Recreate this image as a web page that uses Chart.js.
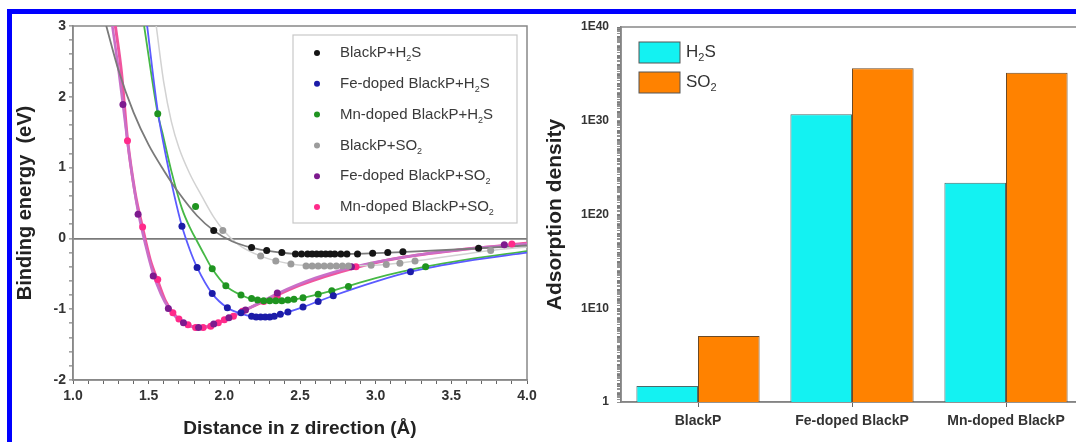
<!DOCTYPE html>
<html>
<head>
<meta charset="utf-8">
<script src="https://cdn.jsdelivr.net/npm/chart.js@4.4.1/dist/chart.umd.min.js"></script>
<style>
  html, body { margin: 0; padding: 0; background: #fff; width: 1076px; height: 442px; overflow: hidden; }
  #left  { position: absolute; left: 0; top: 0; }
  #right { position: absolute; left: 540px; top: 0; }
  .frame { position: absolute; left: 7px; top: 9px; width: 1100px; height: 460px;
           border-top: 5px solid #0000ff; border-left: 5px solid #0000ff; pointer-events: none; }
</style>
</head>
<body>
<canvas id="left" width="545" height="442"></canvas>
<canvas id="right" width="560" height="442"></canvas>
<div class="frame"></div>

<script>
/* ---------- binding energy vs distance (left panel) ---------- */
// measured points [distance Å, energy eV]
const bpH2sPts = [[1.93,0.11],[2.18,-0.13],[2.28,-0.17],[2.38,-0.20],[2.47,-0.22],[2.51,-0.22],[2.55,-0.22],
  [2.58,-0.22],[2.61,-0.22],[2.64,-0.22],[2.67,-0.22],[2.70,-0.22],[2.73,-0.22],[2.77,-0.22],[2.81,-0.22],
  [2.88,-0.22],[2.98,-0.21],[3.08,-0.20],[3.18,-0.19],[3.68,-0.14]];
const feH2sPts = [[1.72,0.17],[1.82,-0.41],[1.92,-0.78],[2.02,-0.98],[2.11,-1.05],[2.18,-1.10],[2.21,-1.11],
  [2.24,-1.11],[2.27,-1.11],[2.30,-1.11],[2.33,-1.10],[2.37,-1.07],[2.42,-1.04],[2.52,-0.97],[2.62,-0.89],
  [2.72,-0.81],[3.23,-0.47]];
const mnH2sPts = [[1.56,1.76],[1.81,0.45],[1.92,-0.43],[2.01,-0.67],[2.11,-0.80],[2.18,-0.85],[2.22,-0.87],
  [2.26,-0.88],[2.30,-0.88],[2.34,-0.88],[2.38,-0.88],[2.42,-0.87],[2.46,-0.86],[2.52,-0.84],[2.62,-0.79],
  [2.71,-0.74],[2.82,-0.68],[3.33,-0.40]];
const bpSo2Pts = [[1.99,0.11],[2.24,-0.25],[2.34,-0.32],[2.44,-0.36],[2.54,-0.39],[2.58,-0.39],[2.62,-0.39],
  [2.66,-0.39],[2.70,-0.39],[2.74,-0.39],[2.78,-0.39],[2.82,-0.39],[2.97,-0.38],[3.07,-0.37],[3.16,-0.35],
  [3.26,-0.32],[3.76,-0.17]];
const feSo2Pts = [[1.33,1.89],[1.43,0.34],[1.53,-0.53],[1.63,-0.99],[1.73,-1.19],[1.83,-1.26],[1.93,-1.21],
  [2.03,-1.12],[2.14,-1.01],[2.35,-0.77],[2.84,-0.40],[3.85,-0.09]];
const mnSo2Pts = [[1.36,1.38],[1.46,0.16],[1.56,-0.58],[1.66,-1.05],[1.70,-1.14],[1.76,-1.22],[1.81,-1.26],
  [1.86,-1.26],[1.91,-1.24],[1.96,-1.19],[2.00,-1.15],[2.06,-1.10],[2.12,-1.03],[2.26,-0.89],[2.35,-0.81],
  [2.87,-0.40],[3.90,-0.08]];

// fitted curves
const bpH2sFit = [[1.22,3.0],[1.30,2.38],[1.40,1.78],[1.50,1.32],[1.60,0.96],[1.70,0.64],[1.82,0.32],[1.93,0.11],
  [2.05,-0.04],[2.18,-0.13],[2.30,-0.18],[2.50,-0.22],[2.80,-0.22],[3.20,-0.19],[3.60,-0.15],[4.00,-0.10]];
const feH2sFit = [[1.49,3.0],[1.56,1.80],[1.62,1.10],[1.67,0.60],[1.72,0.17],[1.77,-0.15],[1.82,-0.41],
  [1.92,-0.78],[2.02,-0.98],[2.12,-1.07],[2.22,-1.11],[2.32,-1.10],[2.42,-1.04],[2.52,-0.97],[2.72,-0.81],
  [3.00,-0.61],[3.23,-0.47],[3.60,-0.32],[4.00,-0.20]];
const mnH2sFit = [[1.47,3.0],[1.56,1.76],[1.59,1.50],[1.65,0.95],[1.72,0.42],[1.78,0.12],[1.82,-0.04],
  [1.87,-0.24],[1.92,-0.43],[2.01,-0.67],[2.11,-0.80],[2.20,-0.87],[2.30,-0.89],[2.40,-0.88],[2.52,-0.84],
  [2.71,-0.74],[3.00,-0.56],[3.33,-0.40],[3.60,-0.30],[4.00,-0.18]];
const bpSo2Fit = [[1.55,3.0],[1.60,2.20],[1.65,1.65],[1.70,1.28],[1.77,0.92],[1.85,0.60],[1.93,0.30],
  [2.00,0.10],[2.10,-0.10],[2.24,-0.25],[2.44,-0.36],[2.70,-0.39],[3.00,-0.38],[3.30,-0.31],[3.76,-0.17],[4.00,-0.12]];
const feSo2Fit = [[1.26,3.0],[1.30,2.40],[1.33,1.89],[1.38,1.05],[1.43,0.38],[1.48,-0.10],[1.53,-0.50],
  [1.58,-0.78],[1.63,-0.98],[1.68,-1.11],[1.73,-1.19],[1.80,-1.25],[1.87,-1.25],[1.93,-1.21],[2.03,-1.12],
  [2.14,-1.01],[2.35,-0.78],[2.60,-0.56],[2.84,-0.41],[3.20,-0.26],[3.60,-0.15],[4.00,-0.08]];
const mnSo2Fit = [[1.28,3.0],[1.32,2.35],[1.36,1.40],[1.41,0.65],[1.46,0.15],[1.51,-0.30],[1.56,-0.60],
  [1.61,-0.88],[1.66,-1.05],[1.71,-1.16],[1.78,-1.24],[1.84,-1.26],[1.91,-1.24],[2.00,-1.15],[2.12,-1.03],
  [2.26,-0.89],[2.50,-0.66],[2.87,-0.41],[3.20,-0.26],[3.60,-0.15],[4.00,-0.07]];

/* ---------- adsorption density (right panel) ---------- */
const substrates  = ['BlackP', 'Fe-doped BlackP', 'Mn-doped BlackP'];
const h2sDensity  = [50, 5e30, 2.5e23];
const so2Density  = [1.1e7, 4e35, 1.3e35];

const FONT = "'Liberation Sans', Arial, Helvetica, sans-serif";
const TEXT = '#333';

const near = (v, step) => Math.abs(v / step - Math.round(v / step)) < 1e-6;
const xy = pts => pts.map(p => ({ x: p[0], y: p[1] }));

// '_' marks the next character as subscript
function drawRich(ctx, text, x, y, size) {
  let cx = x;
  for (let i = 0; i < text.length; i++) {
    let ch = text[i], sub = false;
    if (ch === '_' && i + 1 < text.length) { ch = text[++i]; sub = true; }
    ctx.font = (sub ? Math.round(size * 0.62) : size) + 'px ' + FONT;
    ctx.fillText(ch, cx, sub ? y + size * 0.38 : y);
    cx += ctx.measureText(ch).width;
  }
}

// box around the plot area
const frame = {
  id: 'frame',
  beforeDatasetsDraw(chart) {
    const { ctx, chartArea: a } = chart;
    ctx.save();
    ctx.strokeStyle = '#888';
    ctx.lineWidth = 1.5;
    ctx.strokeRect(a.left, a.top, a.right - a.left, a.bottom - a.top);
    ctx.restore();
  }
};

function pointSet(label, pts, color) {
  return { label, data: xy(pts), backgroundColor: color, borderColor: color,
           pointRadius: 3.5, borderWidth: 0, showLine: false, order: 1 };
}
function fitSet(pts, color, width) {
  return { fit: true, data: xy(pts), borderColor: color, borderWidth: width, pointRadius: 0,
           showLine: true, cubicInterpolationMode: 'monotone', order: 2 };
}

const energyLegend = {
  id: 'energyLegend',
  afterDraw(chart) {
    const { ctx, chartArea: a } = chart;
    const items = chart.data.datasets.filter(d => !d.fit);
    const bx = a.right - 234, by = a.top + 9, bw = 224, bh = 188;
    ctx.save();
    ctx.fillStyle = '#fff';
    ctx.fillRect(bx, by, bw, bh);
    ctx.strokeStyle = '#c8c8c8';
    ctx.lineWidth = 1.2;
    ctx.strokeRect(bx, by, bw, bh);
    ctx.textBaseline = 'middle';
    items.forEach((d, i) => {
      const y = by + 18 + i * 30.8;
      ctx.beginPath();
      ctx.arc(bx + 24, y, 3, 0, Math.PI * 2);
      ctx.fillStyle = d.backgroundColor;
      ctx.fill();
      ctx.fillStyle = '#3a3a3a';
      drawRich(ctx, d.label, bx + 47, y, 15);
    });
    ctx.restore();
  }
};

new Chart(document.getElementById('left'), {
  type: 'scatter',
  data: {
    datasets: [
      pointSet('BlackP+H_2S', bpH2sPts, '#151515'),
      pointSet('Fe-doped BlackP+H_2S', feH2sPts, '#1c1ca8'),
      pointSet('Mn-doped BlackP+H_2S', mnH2sPts, '#1f9420'),
      pointSet('BlackP+SO_2', bpSo2Pts, '#9c9c9c'),
      pointSet('Fe-doped BlackP+SO_2', feSo2Pts, '#7d1a8e'),
      pointSet('Mn-doped BlackP+SO_2', mnSo2Pts, '#ff2a8a'),
      fitSet(bpH2sFit, '#7a7a7a', 1.8),
      fitSet(feH2sFit, '#5b5bff', 1.8),
      fitSet(mnH2sFit, '#46b846', 1.8),
      fitSet(bpSo2Fit, '#d2d2d2', 1.5),
      fitSet(feSo2Fit, '#c870c8', 2.6),
      fitSet(mnSo2Fit, '#f0559e', 3),
    ]
  },
  options: {
    responsive: false,
    animation: false,
    layout: { padding: { left: 0, right: 18, top: 26, bottom: 0 } },
    plugins: { legend: { display: false }, tooltip: { enabled: false } },
    scales: {
      x: {
        type: 'linear', min: 1, max: 4,
        ticks: {
          stepSize: 0.1, autoSkip: false, maxRotation: 0, padding: 4,
          color: TEXT, font: { family: FONT, size: 14, weight: 'bold' },
          callback: v => near(v, 0.5) ? v.toFixed(1) : ''
        },
        grid: { drawOnChartArea: false, tickLength: 4, tickColor: '#666' },
        border: { color: '#888', width: 1.5 },
        title: { display: true, text: 'Distance in z direction (Å)', color: '#222',
                 font: { family: FONT, size: 19, weight: 'bold' }, padding: { top: 0, bottom: 2 } },
        afterFit: s => { s.height = 62; }
      },
      y: {
        min: -2, max: 3,
        ticks: {
          stepSize: 0.2, autoSkip: false, padding: 3,
          color: TEXT, font: { family: FONT, size: 14, weight: 'bold' },
          callback: v => near(v, 1) ? String(Math.round(v)) : ''
        },
        grid: {
          color: c => (c.tick && Math.abs(c.tick.value) < 1e-9) ? '#7a7a7a' : 'rgba(0,0,0,0)',
          lineWidth: 1.8, tickColor: '#666', tickLength: 4, tickWidth: 1
        },
        border: { color: '#888', width: 1.5 },
        title: { display: true, text: 'Binding energy  (eV)', color: '#222',
                 font: { family: FONT, size: 20, weight: 'bold' }, padding: { top: 13, bottom: 0 } },
        afterFit: s => { s.width = 73; }
      }
    }
  },
  plugins: [frame, energyLegend]
});

/* ---------- right panel ---------- */
const densityLegend = {
  id: 'densityLegend',
  afterDraw(chart) {
    const { ctx, chartArea: a } = chart;
    ctx.save();
    ctx.textBaseline = 'middle';
    chart.data.datasets.forEach((d, i) => {
      const x = a.left + 18, y = a.top + 15 + i * 30;
      ctx.fillStyle = d.backgroundColor;
      ctx.fillRect(x, y, 41, 21);
      ctx.strokeStyle = '#555';
      ctx.lineWidth = 1;
      ctx.strokeRect(x, y, 41, 21);
      ctx.fillStyle = TEXT;
      drawRich(ctx, d.label, x + 47, y + 10, 17);
    });
    ctx.restore();
  }
};

new Chart(document.getElementById('right'), {
  type: 'bar',
  data: {
    labels: substrates,
    datasets: [
      { label: 'H_2S', data: h2sDensity, backgroundColor: '#13f2f2', borderColor: '#4b6b6b', borderWidth: 1 },
      { label: 'SO_2', data: so2Density, backgroundColor: '#ff8200', borderColor: '#6b4a26', borderWidth: 1 }
    ]
  },
  options: {
    responsive: false,
    animation: false,
    layout: { padding: { left: 0, right: 17, top: 27, bottom: 0 } },
    datasets: { bar: { categoryPercentage: 0.8, barPercentage: 1 } },
    plugins: { legend: { display: false }, tooltip: { enabled: false } },
    scales: {
      x: {
        ticks: { color: TEXT, font: { family: FONT, size: 14, weight: 'bold' }, maxRotation: 0, autoSkip: false, padding: 6 },
        grid: { offset: false, drawOnChartArea: false, tickLength: 5, tickColor: '#666' },
        border: { color: '#777', width: 1.5 },
        afterFit: s => { s.height = 40; }
      },
      y: {
        type: 'logarithmic', min: 1, max: 1e40,
        afterBuildTicks: s => {
          const t = [];
          for (let n = 0; n < 40; n++) for (let m = 1; m < 10; m++) t.push({ value: m * Math.pow(10, n) });
          t.push({ value: 1e40 });
          s.ticks = t;
        },
        ticks: {
          autoSkip: false, padding: 8, color: TEXT, font: { family: FONT, size: 12, weight: 'bold' },
          callback: v => {
            const n = Math.round(Math.log10(v));
            if (Math.abs(v / Math.pow(10, n) - 1) > 1e-6 || n % 10) return '';
            return n === 0 ? '1' : '1E' + n;
          }
        },
        grid: { drawOnChartArea: false, tickLength: 4, tickColor: '#777', tickWidth: 0.8 },
        border: { color: '#777', width: 1.5 },
        title: { display: true, text: 'Adsorption density', color: '#222',
                 font: { family: FONT, size: 21, weight: 'bold' }, padding: { top: 3, bottom: 0 } },
        afterFit: s => { s.width = 81; }
      }
    }
  },
  plugins: [frame, densityLegend]
});
</script>
</body>
</html>
